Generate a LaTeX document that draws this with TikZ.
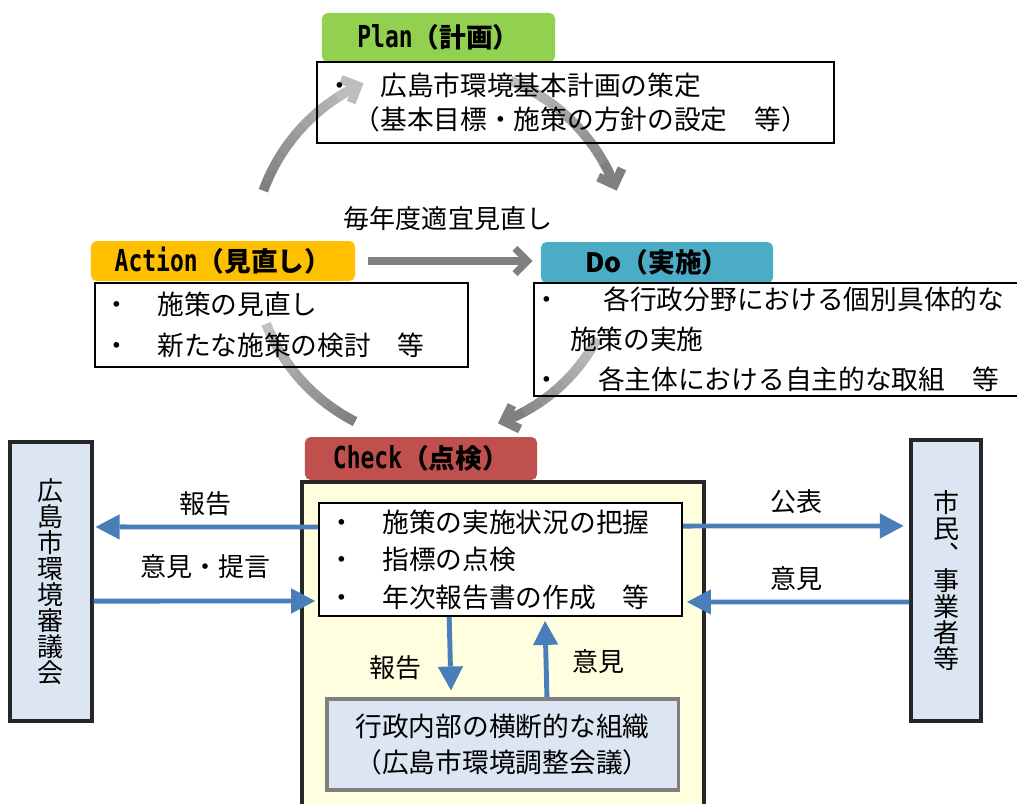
\documentclass[tikz,border=0pt]{standalone}
\usepackage{fontspec}
\setmainfont{Noto Sans CJK JP}
\newfontfamily\hdlatin{DejaVu Sans Mono}[FakeStretch=0.76]
\usetikzlibrary{arrows.meta}

\definecolor{plangreen}{HTML}{92D050}
\definecolor{actorange}{HTML}{FFC000}
\definecolor{doblue}{HTML}{4BACC6}
\definecolor{checkred}{HTML}{C0504D}
\definecolor{checkyellow}{HTML}{FFFFE0}
\definecolor{paleblue}{HTML}{DCE6F2}
\definecolor{arrowblue}{HTML}{4A7EBB}
\definecolor{darkline}{HTML}{262626}

\begin{document}
\begin{tikzpicture}[
        x=0.025cm, y=-0.025cm,
        phase/.style={rectangle, rounded corners=4pt, inner sep=0pt, font=\bfseries\fontsize{19}{19}\selectfont},
        textbox/.style={rectangle, draw=black, line width=1.5pt, inner ysep=0pt, align=left},
        sidebox/.style={rectangle, draw=darkline, line width=2.4pt, fill=paleblue, align=center, font=\fontsize{18.5}{18.5}\selectfont},
        msg/.style={font=\fontsize{18.5}{18.5}\selectfont, inner sep=2pt},
        report/.style={line width=3.5pt, draw=arrowblue, -{Triangle[length=17pt, width=18pt, line width=0pt]}},
        loopline/.style={line width=7pt},
        looparrow/.style={line width=5pt, draw=black!50, -{Straight Barb[length=9pt, width=18pt]}}
    ]
        \useasboundingbox (0,0) rectangle (1017,803);

        % PDCA cycle arrows (boxes come on top)
        \coordinate (cen) at (440,255);
        \foreach \angA/\angB/\rad/\grA/\grB in {200/240/188/50/26, 292/334/188/25/50, 28/65/178/25/50, 117/158/187/50/22} {
            \foreach \i in {0,...,11} {
                \pgfmathsetmacro\segang{\angA+(\angB-\angA)*\i/12}
                \pgfmathsetmacro\seggray{\grA+(\grB-\grA)*\i/12}
                \draw[loopline, draw=black!\seggray] (cen) ++(\segang:\rad) arc[start angle=\segang, delta angle={(\angB-\angA)/12+0.4}, radius=\rad];
            }
        }
        \draw[looparrow, line width=6.5pt, draw=black!26] (cen) ++(237:188) arc[start angle=237, end angle=246, radius=188];
        \draw[looparrow, line width=6.5pt] (cen) ++(331:188) arc[start angle=331, end angle=340, radius=188];
        \draw[looparrow, line width=6.5pt] (cen) ++(62:178) arc[start angle=62, end angle=71, radius=178];

        % Plan
        \node[phase, fill=plangreen, minimum width=5.825cm, minimum height=1.225cm] (planh) at (438.5,37.5) {{\hdlatin\fontsize{21.5}{21.5}\selectfont Plan}（計画）};
        \node[textbox, minimum height=2.025cm, inner xsep=0.25cm, text width=12.425cm, font=\fontsize{19}{24}\selectfont] (planb) at (575.5,102.5)
            {・　広島市環境基本計画の策定\\　（基本目標・施策の方針の設定　等）};

        % Action
        \node[phase, fill=actorange, minimum width=6.6cm, minimum height=1cm] (acth) at (223,261) {{\hdlatin\fontsize{21.5}{21.5}\selectfont Action}（見直し）};
        \node[textbox, minimum height=2.1cm, inner xsep=0.225cm, text width=8.875cm, font=\fontsize{19}{29}\selectfont] (actb) at (281.5,325)
            {・　施策の見直し\\・　新たな施策の検討　等};

        % Do
        \node[phase, fill=doblue, minimum width=5.8cm, minimum height=1.025cm] (doh) at (657,262.5) {Do（実施）};
        \node[textbox, minimum height=2.825cm, inner xsep=0cm, text width=12.65cm, font=\fontsize{19}{28.4}\selectfont] (dob) at (787,339.5)
            {・\hspace*{1.6em}各行政分野における個別具体的な\\\hspace*{1.35em}施策の実施\\・\hspace*{1.4em}各主体における自主的な取組　等};

        \draw[looparrow, shorten <=9.2pt, shorten >=5.7pt] (acth.east) -- (acth.east -| doh.west)
            node[midway, above=17pt, msg] {毎年度適宜見直し};

        % Check
        \node[phase, fill=checkred, minimum width=5.8cm, minimum height=1.075cm] (checkh) at (421,458.5) {{\hdlatin\fontsize{21.5}{21.5}\selectfont Check}（点検）};
        \node[rectangle, draw=darkline, line width=2.4pt, fill=checkyellow, minimum width=10.05cm, minimum height=8.45cm] (checkb) at (503,651) {};
        \node[textbox, fill=white, minimum height=2.825cm, inner xsep=0.25cm, text width=8.575cm, font=\fontsize{19}{26.7}\selectfont] (checkin) at (500.5,559.5)
            {・　施策の実施状況の把握\\・　指標の点検\\・　年次報告書の作成　等};
        \node[rectangle, draw=black!50, line width=2.2pt, fill=paleblue, minimum width=8.775cm, minimum height=2.275cm, align=center, font=\fontsize{19}{25.6}\selectfont] (org) at (502.5,744.5)
            {行政内部の横断的な組織\\（広島市環境調整会議）};

        % Council and citizens
        \node[sidebox, minimum width=2.05cm, minimum height=6.975cm] (council) at (51,581.5) {広\\島\\市\\環\\境\\審\\議\\会};
        \node[sidebox, minimum width=1.75cm, minimum height=7.025cm] (citizen) at (946,580.5) {市\\民\\︑\\事\\業\\者\\等};

        \draw[report, shorten >=1.4pt] ([yshift=23.1pt]checkin.west) -- ([yshift=38.8pt]council.east)
            node[midway, above=4.4pt, msg] {報告};
        \draw[report, shorten >=2pt] ([yshift=-13.9pt]council.east) -- ([yshift=-29.5pt]checkin.west)
            node[midway, above=12pt, msg] {意見・提言};
        \draw[report, shorten >=4pt] ([yshift=23.8pt]checkin.east) -- ([yshift=38.8pt]citizen.west)
            node[midway, above=5pt, msg] {公表};
        \draw[report, shorten >=2.8pt] ([yshift=-15.3pt]citizen.west) -- ([yshift=-30.2pt]checkin.east)
            node[midway, above=4.4pt, msg] {意見};
        \draw[report, shorten >=5pt] ([xshift=-36.5pt]checkin.south) -- ([xshift=-36.5pt]org.north)
            node[pos=0.63, left=16.5pt, msg] {報告};
        \draw[report, shorten >=2.8pt] ([xshift=31.6pt]org.north) -- ([xshift=31.6pt]checkin.south)
            node[pos=0.44, right=15pt, msg] {意見};
    \end{tikzpicture}
\end{document}
